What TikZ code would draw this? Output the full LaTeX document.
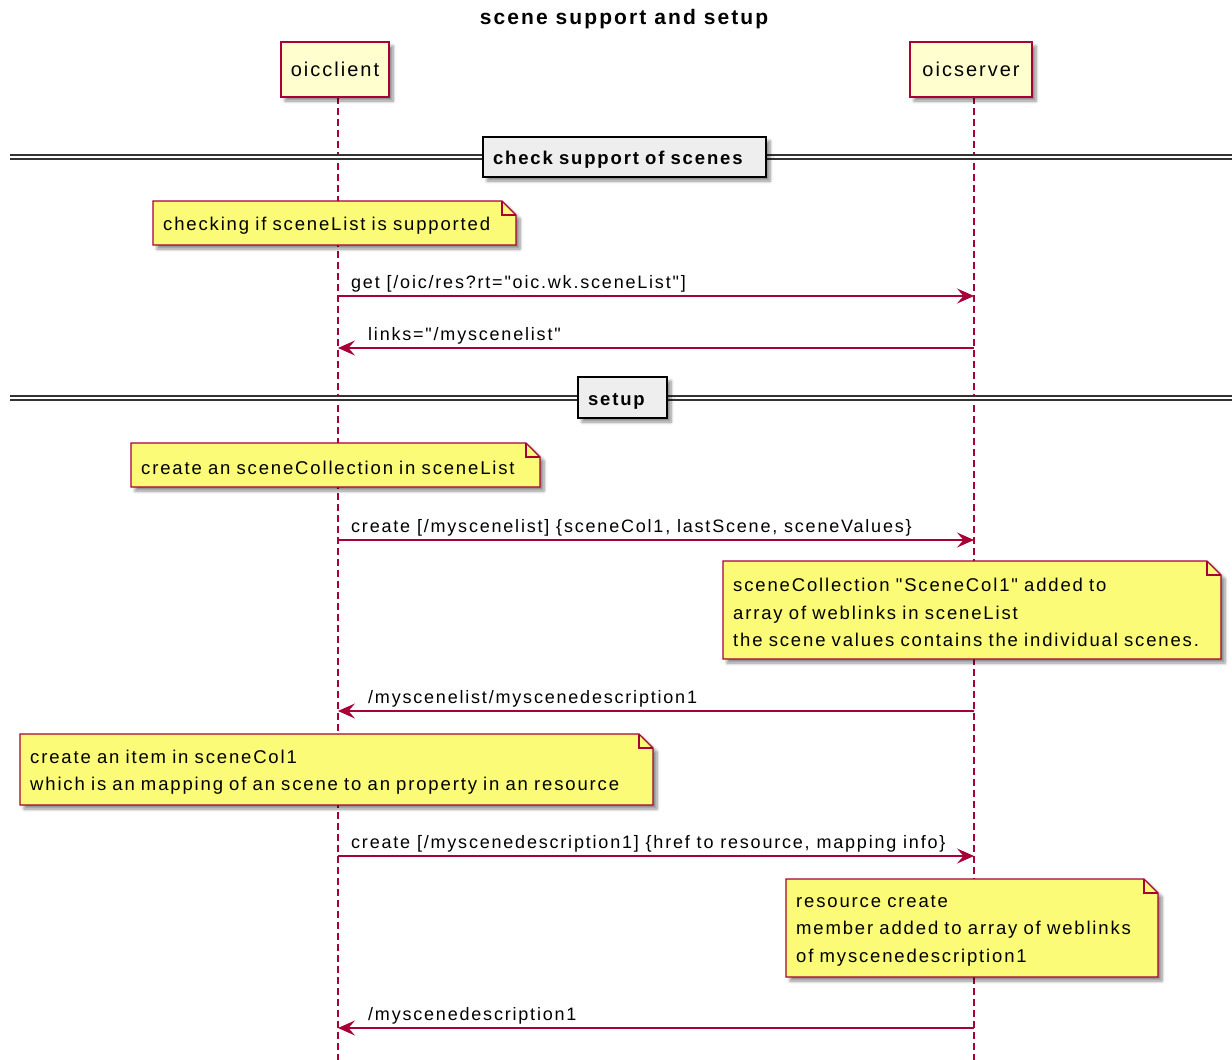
\documentclass[tikz,border=0pt]{standalone}
\usepackage{fontspec}
\setmainfont{Liberation Sans}[LetterSpace=10,Ligatures=TeXOff]
\usetikzlibrary{arrows.meta,shadows.blur}

\definecolor{plred}{HTML}{A80036}
\definecolor{partfill}{HTML}{FEFECE}
\definecolor{notefill}{HTML}{FBFB77}
\definecolor{divfill}{HTML}{EEEEEE}

% a note with a folded top-right corner:
% #1 name, #2 left, #3 top, #4 width, #5 height, #6 text width, #7 text
\newcommand\foldednote[7]{%
  \path[notebody] (#2,#3) -- ++(#4-14,0) -- ++(14,14) -- ++(0,#5-14)
      -- ++(-#4,0) -- cycle;
  \draw[notefold] (#2+#4-14,#3) |- (#2+#4,#3+14);
  \node[notetext, text width=#6pt, minimum height=#5pt] (#1) at (#2,#3+2.5) {#7};}

\begin{document}
\begin{tikzpicture}[x=1pt,y=-1pt,
  castshadow/.style={blur shadow={shadow xshift=4pt, shadow yshift=-4pt,
      shadow blur radius=3pt, shadow blur steps=6, shadow opacity=45}},
  participant/.style={draw=plred, fill=partfill, line width=1.5pt, castshadow,
      font=\fontsize{20}{24}\selectfont, inner sep=0pt, minimum height=55pt},
  notetext/.style={anchor=north west, inner xsep=10pt, inner ysep=0pt, align=left,
      font=\fontsize{18.5}{27.5}\selectfont},
  notebody/.style={draw=plred, fill=notefill, line width=1.2pt, castshadow},
  notefold/.style={draw=plred, line width=1.2pt},
  msg/.style={draw=plred, line width=1.3pt, -{Stealth[length=17pt,width=15pt,inset=6.5pt]}},
  msglabel/.style={anchor=base west, inner sep=0pt, font=\fontsize{18}{22}\selectfont},
  lifeline/.style={draw=plred, line width=1.2pt, dash pattern=on 7pt off 4pt},
  divider/.style={draw=black!80, line width=1.4pt, double=white, double distance=2.4pt},
  divbox/.style={draw=black, fill=divfill, line width=2pt, castshadow, align=left,
      font=\bfseries\fontsize{18.5}{22}\selectfont, inner xsep=10pt, inner ysep=0pt,
      text height=15.5pt, text depth=0pt}]

\useasboundingbox (0,0) rectangle (1232,1060);

% lifelines, drawn first so that everything else covers them
\coordinate (cTop) at (338,97);
\coordinate (cEnd) at (338,1060);
\coordinate (sTop) at (974,97);
\coordinate (sEnd) at (974,1060);
\draw[lifeline] (cTop) -- (cEnd);
\draw[lifeline] (sTop) -- (sEnd);

% title
\node[font=\bfseries\fontsize{21}{24}\selectfont] (title) at (624,19) {scene support and setup};

% participants
\node[participant, minimum width=108pt] (client) at (335,69.5) {oicclient};
\node[participant, minimum width=122pt] (server) at (971,69.5) {oicserver};

% divider: check support of scenes
\coordinate (d1L) at (10,157);
\coordinate (d1R) at (1232,157);
\draw[divider] (d1L) -- (d1R);
\node[divbox, text width=263pt, minimum height=40pt] (div1) at (624.5,157) {check support of scenes};

% note: checking
\foldednote{n1}{153}{201}{363}{44}{343}{checking if sceneList is supported}

% get request / links reply
\coordinate (c1) at (338,296); \coordinate (s1) at (974,296);
\draw[msg] (c1) -- (s1);
\node[msglabel] (l1) at (351,288) {get [/oic/res?rt="oic.wk.sceneList"]};

\coordinate (c2) at (338,348); \coordinate (s2) at (974,348);
\draw[msg] (s2) -- (c2);
\node[msglabel] (l2) at (368,340) {links="/myscenelist"};

% divider: setup
\coordinate (d2L) at (10,398);
\coordinate (d2R) at (1232,398);
\draw[divider] (d2L) -- (d2R);
\node[divbox, text width=69pt, minimum height=41pt] (div2) at (622.5,397.5) {setup};

% note: create collection
\foldednote{n2}{131}{443}{409}{44}{389}{create an sceneCollection in sceneList}

\coordinate (c3) at (338,540); \coordinate (s3) at (974,540);
\draw[msg] (c3) -- (s3);
\node[msglabel] (l3) at (351,532) {create [/myscenelist] \{sceneCol1, lastScene, sceneValues\}};

% note: collection added
\foldednote{n3}{723}{561}{498}{98}{478}{sceneCollection "SceneCol1" added to\\
   array of weblinks in sceneList\\
   the scene values contains the individual scenes.}

\coordinate (c4) at (338,711); \coordinate (s4) at (974,711);
\draw[msg] (s4) -- (c4);
\node[msglabel] (l4) at (368,703) {/myscenelist/myscenedescription1};

% note: create item
\foldednote{n4}{20}{734}{633}{71}{613}{create an item in sceneCol1\\
   which is an mapping of an scene to an property in an resource}

\coordinate (c5) at (338,856); \coordinate (s5) at (974,856);
\draw[msg] (c5) -- (s5);
\node[msglabel] (l5) at (351,848) {create [/myscenedescription1] \{href to resource, mapping info\}};

% note: resource created
\foldednote{n5}{786}{879}{372}{98}{352}{resource create\\
   member added to array of weblinks\\
   of myscenedescription1}

\coordinate (c6) at (338,1028); \coordinate (s6) at (974,1028);
\draw[msg] (s6) -- (c6);
\node[msglabel] (l6) at (368,1020) {/myscenedescription1};

\end{tikzpicture}
\end{document}
